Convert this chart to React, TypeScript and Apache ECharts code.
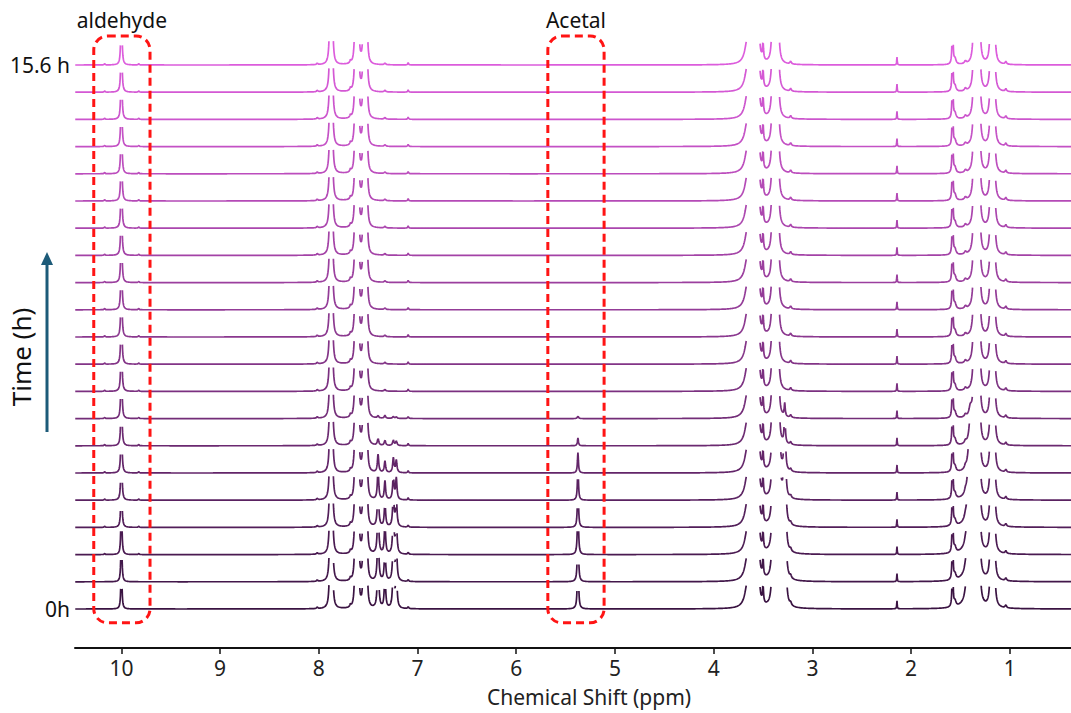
import React, { useEffect, useRef } from "react";
import * as echarts from "echarts";

// Stacked 1H NMR spectra of the acetal hydrolysis, 0 h (bottom) to 15.6 h (top)
const TRACE_COUNT = 21;
const timeLabels: Record<number, string> = { 0: "0h", 20: "15.6 h" };
const ppmTicks = [1, 2, 3, 4, 5, 6, 7, 8, 9, 10];
const ppmMin = 0.38;
const ppmMax = 10.47;
const ppmStep = 0.0025;
// signal level (in stack offsets) above which each trace is cut off
const clipLevel = 0.88;

// Signals common to every spectrum: [ppm, height, half-width (ppm)]
const fixedPeaks: [number, number, number][] = [
  [8.016, 0.06, 0.006],
  [7.885, 2.5, 0.008],
  [7.865, 2.5, 0.008],
  [7.68, 0.1, 0.006],
  [7.63, 2.5, 0.008],
  [7.6, 2.5, 0.008],
  [7.545, 2.5, 0.008],
  [7.515, 2.5, 0.008],
  [7.33, 0.06, 0.008],
  [7.095, 0.08, 0.005],
  [3.66, 0.7, 0.03],
  [3.625, 2.5, 0.01],
  [3.6, 2.5, 0.01],
  [3.575, 2.5, 0.01],
  [3.55, 2.5, 0.01],
  [3.5, 0.65, 0.006],
  [3.4, 2.5, 0.01],
  [3.375, 2.5, 0.01],
  [3.35, 2.5, 0.01],
  [3.22, 0.1, 0.008],
  [2.143, 0.3, 0.003],
  [1.58, 3.0, 0.004],
  [1.555, 0.2, 0.012],
  [1.45, 0.1, 0.01],
  [1.36, 2.5, 0.01],
  [1.335, 2.5, 0.01],
  [1.31, 2.5, 0.01],
  [1.19, 2.5, 0.01],
  [1.16, 2.5, 0.01],
  [1.04, 0.1, 0.008],
];

// Acetal signals at full strength: [ppm, height, half-width]
const acetalPeaks: [number, number, number][] = [
  [7.4, 2.2, 0.008],
  [7.33, 1.2, 0.008],
  [7.245, 1.8, 0.008],
  [7.215, 1.5, 0.008],
  [5.375, 2.5, 0.006],
  [3.34, 12, 0.006],
  [3.28, 12, 0.006],
  [1.4, 8, 0.015],
];

// Relative acetal amount in each spectrum, 0 h first
const acetalLevel = [
  1, 0.96, 0.88, 0.72, 0.52, 0.3, 0.115, 0.04, 0, 0, 0, 0, 0, 0, 0, 0, 0, 0, 0, 0, 0,
];

// Aldehyde CHO signal (10.0 ppm) and its 13C satellites, 0 h first
const aldehydePpm = 10.0;
const aldehydeHeight = [
  2.4, 2.6, 2.8, 3.0, 3.2, 3.4, 3.5, 3.6, 3.6, 3.6, 3.6, 3.6, 3.6, 3.6, 3.6, 3.6, 3.6, 3.6, 3.6, 3.6, 3.6,
];
const satellitePpm = [10.17, 9.825];
const satelliteHeight = [
  0, 0, 0.05, 0.05, 0.06, 0.06, 0.06, 0.06, 0.06, 0.06, 0.06, 0.06, 0.06, 0.06, 0.06, 0.06, 0.06, 0.06, 0.06, 0.06, 0.06,
];

// Highlighted regions: [label, high ppm edge, low ppm edge]
const highlightBoxes: [string, number, number][] = [
  ["aldehyde", 10.28, 9.71],
  ["Acetal", 5.68, 5.11],
];

const yMin = -1.434;
const yMax = 22.022;
const boxTop = 21.07;
const boxBottom = -0.51;

const colorStart = [58, 19, 66];
const colorEnd = [220, 92, 220];

const labelFont = "'Noto Sans', 'Open Sans', sans-serif";

function lorentz(x: number, c: number, h: number, w: number) {
  const d = x - c;
  return (h * w * w) / (w * w + d * d);
}

function traceColor(i: number) {
  const t = i / (TRACE_COUNT - 1);
  const c = colorStart.map((v, k) => Math.round(v + (colorEnd[k] - v) * t));
  return `rgb(${c[0]},${c[1]},${c[2]})`;
}

function buildTrace(i: number) {
  const peaks: [number, number, number][] = [
    ...fixedPeaks,
    ...acetalPeaks.map(([c, h, w]) => [c, h * acetalLevel[i], w] as [number, number, number]),
    [aldehydePpm, aldehydeHeight[i], 0.005],
    ...satellitePpm.map((p) => [p, satelliteHeight[i], 0.004] as [number, number, number]),
  ].filter((p) => p[1] > 0);
  const n = Math.round((ppmMax - ppmMin) / ppmStep);
  const data: (number | string)[][] = [];
  for (let k = 0; k <= n; k++) {
    const x = ppmMin + k * ppmStep;
    let v = 0;
    for (const [c, h, w] of peaks) v += lorentz(x, c, h, w);
    data.push([x, v > clipLevel ? "-" : i + v]);
  }
  return data;
}

export default function App() {
  const ref = useRef<HTMLDivElement>(null);

  useEffect(() => {
    document.body.style.margin = "0";
    if (!ref.current) return;
    const chart = echarts.init(ref.current, undefined, { renderer: "svg" });

    const series = Array.from({ length: TRACE_COUNT }, (_, i) => ({
      type: "line",
      data: buildTrace(i),
      showSymbol: false,
      symbol: "none",
      silent: true,
      connectNulls: false,
      lineStyle: { color: traceColor(i), width: 1.7 },
      z: 2 + (TRACE_COUNT - i),
    }));

    chart.setOption({
      animation: false,
      backgroundColor: "#ffffff",
      grid: { left: 75, right: 0, top: 10, bottom: 65 },
      xAxis: {
        type: "value",
        inverse: true,
        min: ppmMin,
        max: ppmMax,
        axisLine: { show: true, onZero: false, lineStyle: { color: "#111", width: 2 } },
        axisTick: { show: true, length: 6, customValues: ppmTicks, lineStyle: { color: "#111", width: 1.5 } },
        axisLabel: { customValues: ppmTicks, fontSize: 21, color: "#222", margin: 9, fontFamily: labelFont },
        splitLine: { show: false },
        name: "Chemical Shift (ppm)",
        nameLocation: "middle",
        nameGap: 38,
        nameTextStyle: { fontSize: 21, color: "#222", fontFamily: labelFont, padding: [0, 0, 0, 32] },
      },
      yAxis: {
        type: "value",
        min: yMin,
        max: yMax,
        axisLine: { show: false },
        axisTick: { show: false },
        splitLine: { show: false },
        axisLabel: {
          customValues: [0, 20],
          formatter: (v: number) => timeLabels[v] ?? "",
          fontSize: 21,
          color: "#111",
          margin: 5,
          fontFamily: labelFont,
        },
      },
      series,
    });

    const graphics: any[] = [];
    highlightBoxes.forEach(([label, hi, lo]) => {
      const [x1, y1] = chart.convertToPixel({ gridIndex: 0 }, [hi, boxTop]);
      const [x2, y2] = chart.convertToPixel({ gridIndex: 0 }, [lo, boxBottom]);
      graphics.push({
        type: "rect",
        silent: true,
        z: 100,
        shape: { x: Math.min(x1, x2), y: y1, width: Math.abs(x2 - x1), height: y2 - y1, r: 14 },
        style: { fill: "none", stroke: "#ff1414", lineWidth: 3, lineDash: [8, 5] },
      });
      graphics.push({
        type: "text",
        silent: true,
        z: 100,
        x: (x1 + x2) / 2,
        y: 20,
        style: {
          text: label,
          fontSize: 21,
          fontFamily: labelFont,
          fill: "#111",
          align: "center",
          verticalAlign: "middle",
        },
      });
    });
    // time direction arrow and label
    graphics.push({
      type: "line",
      silent: true,
      shape: { x1: 47, y1: 432, x2: 47, y2: 262 },
      style: { stroke: "#1d5b79", lineWidth: 3 },
    });
    graphics.push({
      type: "polygon",
      silent: true,
      shape: { points: [[41, 265], [53, 265], [47, 252]] },
      style: { fill: "#1d5b79" },
    });
    graphics.push({
      type: "text",
      silent: true,
      x: 21,
      y: 357,
      rotation: Math.PI / 2,
      style: {
        text: "Time (h)",
        fontSize: 26,
        fontFamily: labelFont,
        fill: "#111",
        align: "center",
        verticalAlign: "middle",
      },
    });
    chart.setOption({ graphic: graphics });

    return () => chart.dispose();
  }, []);

  return <div ref={ref} style={{ width: 1071, height: 713 }} />;
}
